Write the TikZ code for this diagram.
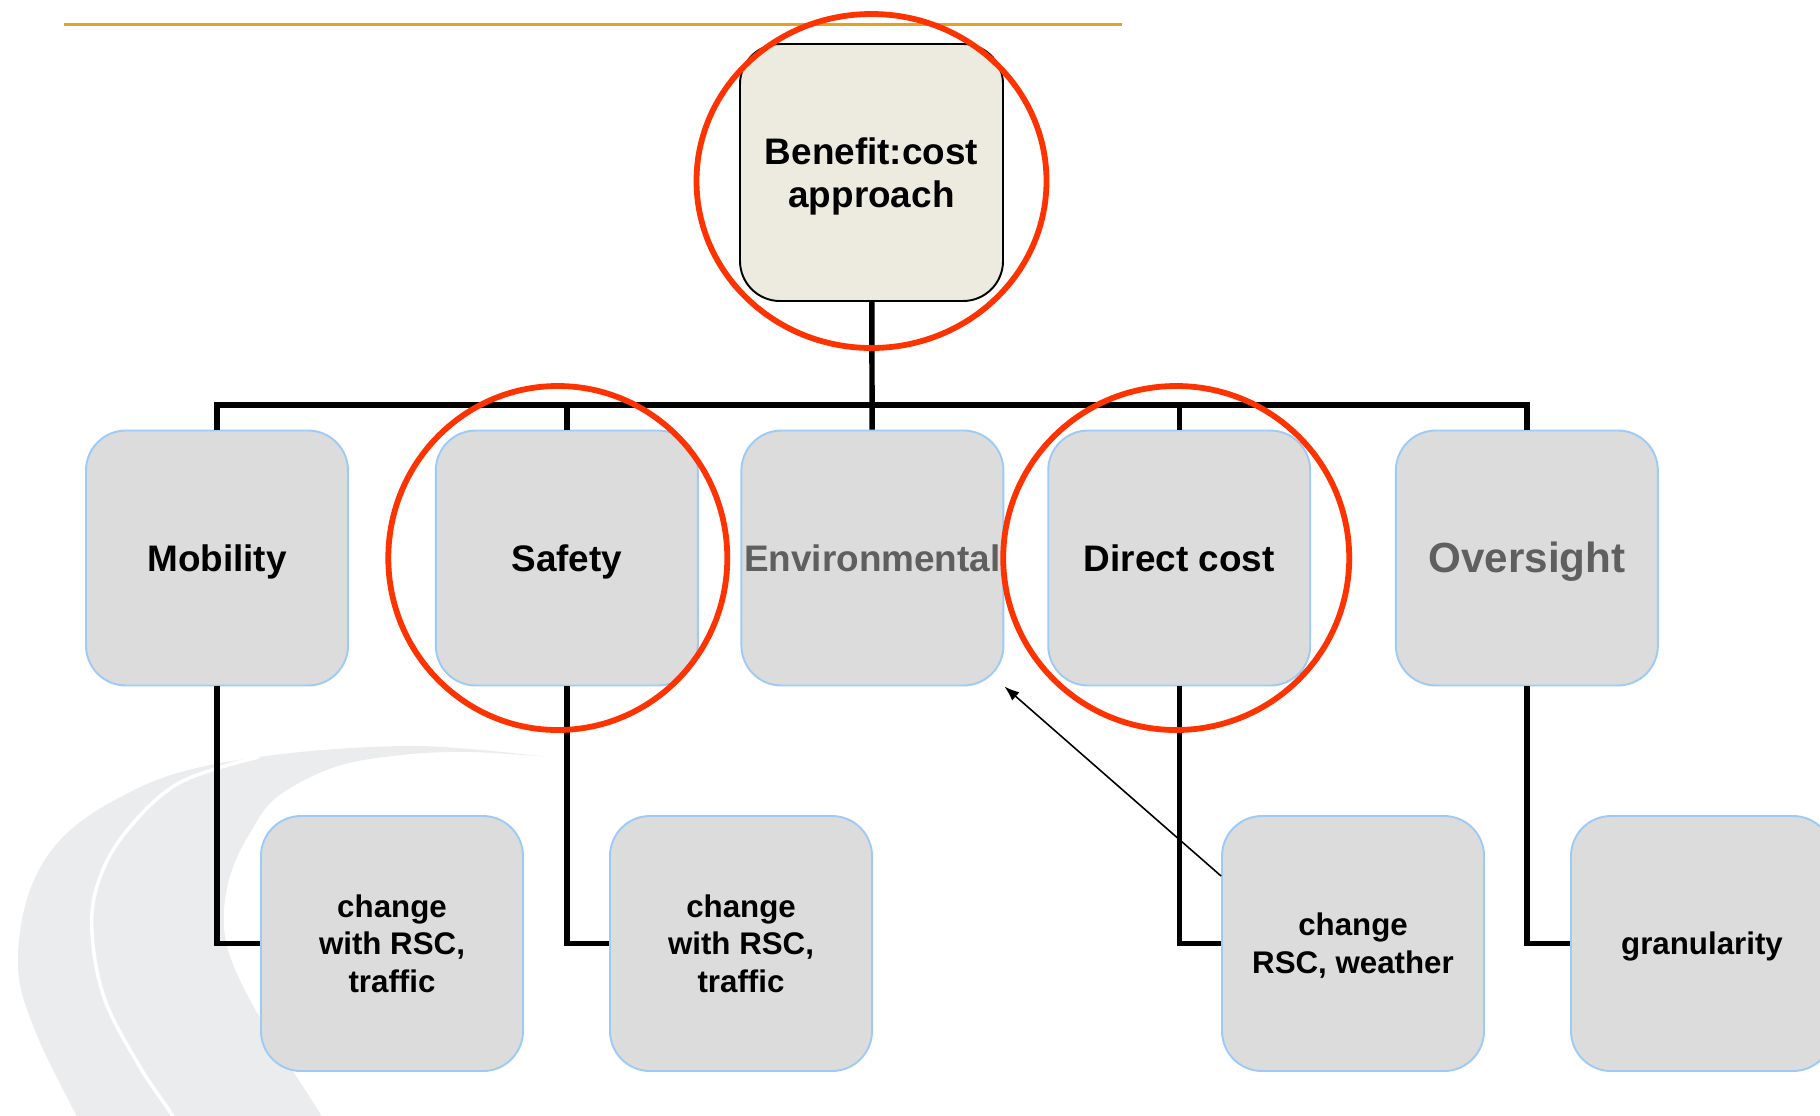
\documentclass[tikz,border=0pt]{standalone}
\usepackage{fontspec}
\setmainfont{Liberation Sans}
\usetikzlibrary{arrows.meta,positioning}
\definecolor{Dim}{HTML}{5F5F5F}
\definecolor{Card}{HTML}{DCDCDC}
\definecolor{CardLine}{HTML}{9DCBF5}
\definecolor{RootFill}{HTML}{EDEBE0}
\definecolor{Mark}{HTML}{FF3300}
\definecolor{Gold}{HTML}{E5A11A}
\definecolor{Swoosh}{HTML}{EBECED}
\tikzset{
  rootbox/.style={draw=black,fill=RootFill,line width=1.1pt,rounded corners=8mm,minimum width=52.6mm,minimum height=51.4mm,inner sep=0pt,align=center,text depth=0pt,font=\bfseries\fontsize{21}{24.5}\selectfont},
  cat/.style={draw=CardLine,fill=Card,line width=1.1pt,rounded corners=8mm,minimum width=52.4mm,minimum height=51mm,inner sep=0pt,align=center,text height=15pt,text depth=0pt,font=\bfseries\fontsize{21}{24.5}\selectfont},
  leaf/.style={draw=CardLine,fill=Card,line width=1.1pt,rounded corners=8mm,minimum width=52.4mm,minimum height=51mm,inner sep=0pt,align=center,text depth=0pt,font=\bfseries\fontsize{17.8}{21.5}\selectfont},
  tree/.style={draw=black,line width=3.1pt},
  ring/.style={draw=Mark,line width=3.3pt},
  hint/.style={-{Latex[length=3mm,width=2.2mm]},draw=black,line width=.9pt}
}

\begin{document}
\begin{tikzpicture}[x=0.2mm,y=-0.2mm]
  \useasboundingbox (0,0) rectangle (1820,1115);
  \clip (0,0) rectangle (1820,1115);

  % road swoosh in the lower left
  \fill[Swoosh] plot[smooth,tension=.6] coordinates {(549,757) (470,749) (402,746) (300,752) (201,767) (134,790) (67,833) (30,890) (18,967) (36,1033) (76,1115) (88,1140)}
    -- plot[smooth,tension=.6] coordinates {(333,1140) (321,1115) (286,1060) (250,1000) (228,950) (224,910) (232,870) (250,833) (277,797) (335,767) (402,755) (470,752) (549,757)} -- cycle;
  \draw[white,line width=2pt] plot[smooth,tension=.6] coordinates {(259,757) (179,783) (125,833) (98,883) (92,933) (105,1000) (140,1067) (172,1115) (184,1140)};

  % title rule
  \draw[Gold,line width=1.7pt] (64,24.4) -- (1122,24.4);

  % hierarchy
  \node[rootbox] (root) at (871.5,172.5) {Benefit:cost\\approach};
  \node[cat] (mob) at (217,558) {Mobility};
  \node[cat,right=17.17mm of mob] (saf) {Safety};
  \node[cat,right=8.34mm of saf,text=Dim] (env) {Environmental};
  \node[cat,right=8.57mm of env] (dir) {Direct cost};
  \node[cat,right=16.74mm of dir,text=Dim,text height=17pt,font=\bfseries\fontsize{24}{28}\selectfont] (over) {Oversight};

  \node[leaf] (mobc) at (392,943.5) {change\\with RSC,\\traffic};
  \node[leaf] (safc) at (741,943.5) {change\\with RSC,\\traffic};
  \node[leaf] (dirc) at (1353,943.5) {change\\RSC, weather};
  \node[leaf] (overc) at (1702,943.5) {granularity};

  \coordinate (bus) at (871.5,405);
  \draw[tree] (root) -- (env);
  \draw[tree] (mob.north) -- (mob.north |- bus) -- (over.north |- bus) -- (over.north);
  \draw[tree] (saf.north) -- (saf.north |- bus);
  \draw[tree] (dir.north) -- (dir.north |- bus);

  \draw[tree] (mob.south) |- (mobc.west);
  \draw[tree] (saf.south) |- (safc.west);
  \draw[tree] (dir.south) |- (dirc.west);
  \draw[tree] (over.south) |- (overc.west);

  \draw[hint] ([yshift=13.5mm]dirc.west) -- (env.south east);

  % highlight rings
  \draw[ring] ([yshift=-1.7mm]root.center) ellipse [x radius=35mm,y radius=33.4mm];
  \draw[ring] ([xshift=-1.8mm]saf.center) ellipse [x radius=33.9mm,y radius=34.4mm];
  \draw[ring] ([xshift=-.6mm]dir.center) ellipse [x radius=34.6mm,y radius=34.4mm];
\end{tikzpicture}
\end{document}
